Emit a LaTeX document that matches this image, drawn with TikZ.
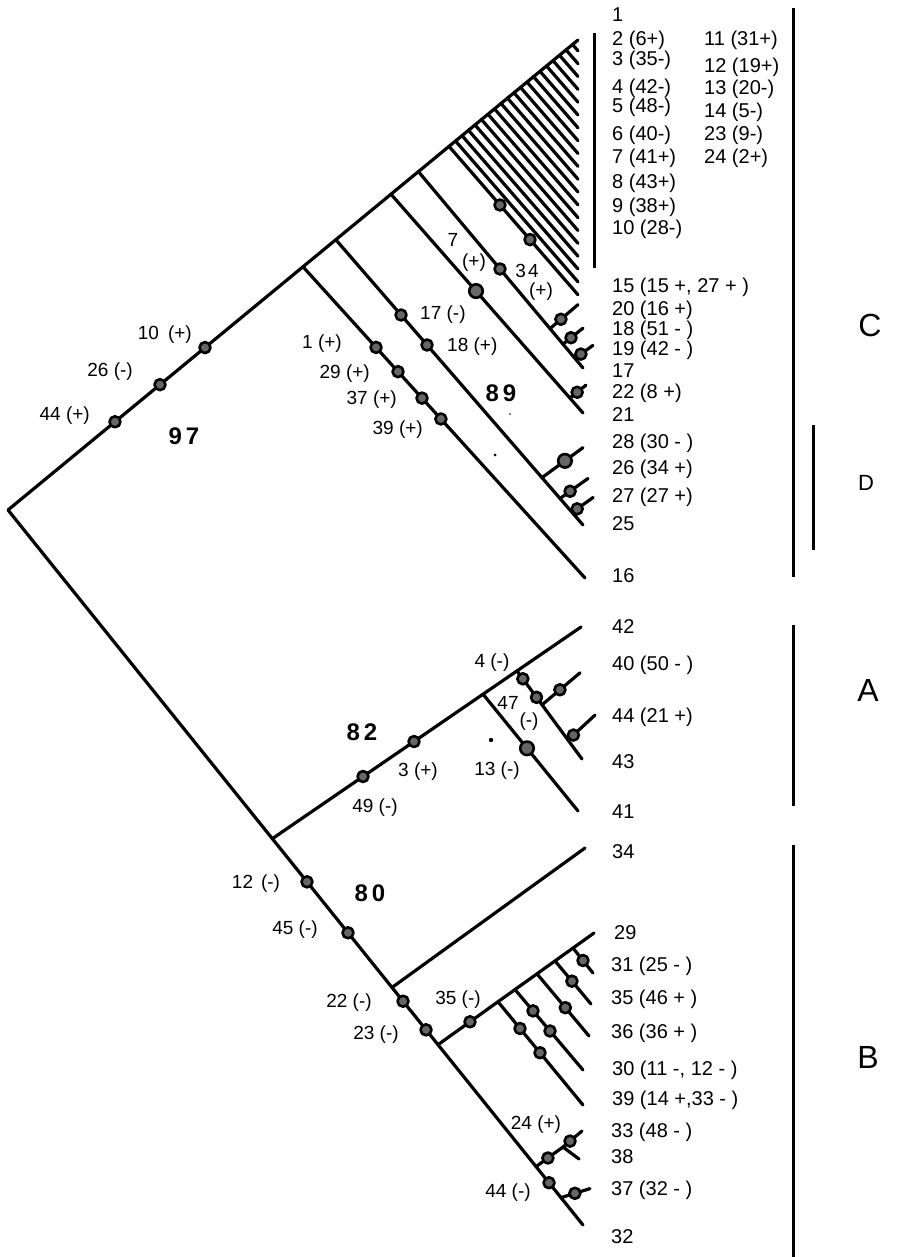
\documentclass[tikz,border=0pt]{standalone}
\usepackage{fontspec}
\setmainfont{Liberation Sans}
\usetikzlibrary{calc}

\begin{document}
\begin{tikzpicture}[x=1pt, y=-1pt, line cap=round, line join=round,
    br/.style={line width=3.2pt},
    bar/.style={line width=3pt, line cap=butt},
    apo/.style={circle, draw=black, line width=2.6pt, fill=black!60, inner sep=0pt, minimum size=11pt},
    apobig/.style={apo, minimum size=13.5pt},
    lab/.style={inner sep=0pt, font=\fontsize{19}{22}\selectfont},
    leaf/.style={lab, anchor=west, font=\fontsize{20}{22}\selectfont},
    num/.style={inner sep=0pt, font=\fontsize{24}{26}\selectfont\bfseries},
    grp/.style={inner sep=0pt, font=\fontsize{32}{34}\selectfont}]

    \useasboundingbox (0,0) rectangle (903,1257);

    % picture units are pixels of the figure, y runs downwards
    \def\up{0.8246}   % fall of the upper stem per unit x
    \def\fan{1.15}    % slope of the comb lines
    \def\tipx{578}    % right edge of the comb

    % key points
    \coordinate (root) at (8,510);
    \coordinate (top)  at (578,40);
    \coordinate (bot)  at (583,1225);

    % stems of the two main clades
    \draw[br] (top) -- (root)
        node[apo, pos=0.6544] (mk10) {}
        node[apo, pos=0.7333] (mk26) {}
        node[apo, pos=0.8123] (mk44) {}
        -- (bot)
        node[apo, pos=0.52]   (mk12) {}
        node[apo, pos=0.5913] (mk45) {}
        node[apo, pos=0.687]  (mk22) {}
        node[apo, pos=0.727]  (mk23) {}
        node[apo, pos=0.9409] (mk44b) {};

    % branch points on the upper stem
    \coordinate (c1) at ($(root)!0.5175!(top)$);
    \coordinate (c2) at ($(root)!0.5751!(top)$);
    \coordinate (c3) at ($(root)!0.6719!(top)$);
    \coordinate (c4) at ($(root)!0.7200!(top)$);
    \coordinate (c5) at ($(root)!0.7737!(top)$);

    % branch points on the lower stem
    \coordinate (a0)  at ($(root)!0.4597!(bot)$);
    \coordinate (b34) at ($(root)!0.6678!(bot)$);
    \coordinate (bj)  at ($(root)!0.7478!(bot)$);
    \coordinate (j24) at ($(root)!0.9183!(bot)$);
    \coordinate (j37) at ($(root)!0.9617!(bot)$);

    % ---- clade C ----
    % comb of the upper taxa
    \foreach \xs in {455.5,462,...,574}
        \draw[br] (\xs,{510-\up*(\xs-8)}) -- (\tipx,{510-\up*(\xs-8)+\fan*(\tipx-\xs)});

    % taxon 15
    \coordinate (e15) at (\tipx,294.8);
    \draw[br] (c5) -- (e15)
        node[apo, pos=0.395] (mk15a) {}
        node[apo, pos=0.628] (mk15b) {};

    % branch to 17
    \coordinate (e17) at (583,368);
    \draw[br] (c4) -- (e17)
        node[apo, pos=0.4957] (mk34) {}
        coordinate[pos=0.7995] (j20)
        coordinate[pos=0.8785] (j18)
        coordinate[pos=0.951]  (j19);
    \draw[br] (j20) -- ++(28,-24) node[apo, pos=0.39] (mk20) {};
    \draw[br] (j18) -- ++(20,-16) node[apo, pos=0.40] (mk18) {};
    \draw[br] (j19) -- ++(18,-13) node[apo, pos=0.33] (mk19) {};

    % branch to 21
    \coordinate (e21) at (583,413);
    \draw[br] (c3) -- (e21)
        node[apobig, pos=0.4427] (mk7) {}
        coordinate[pos=0.932] (j22);
    \draw[br] (j22) -- ++(16,-13) node[apo, pos=0.45] (mk22c) {};

    % branch to 25 (clade D)
    \coordinate (e25) at (583,525);
    \draw[br] (c2) -- (e25)
        node[apo, pos=0.2638] (mk17) {}
        node[apo, pos=0.369]  (mk18c) {}
        coordinate[pos=0.834] (j28)
        coordinate[pos=0.907] (j26)
        coordinate[pos=0.956] (j27);
    \draw[br] (j28) -- ++(41,-30) node[apobig, pos=0.56] (mk28) {};
    \draw[br] (j26) -- ++(28,-20) node[apo, pos=0.36] (mk26c) {};
    \draw[br] (j27) -- ++(21,-15) node[apo, pos=0.24] (mk27) {};

    % branch to 16
    \coordinate (e16) at (585,578);
    \draw[br] (c1) -- (e16)
        node[apo, pos=0.259] (mk1)  {}
        node[apo, pos=0.337] (mk29) {}
        node[apo, pos=0.422] (mk37) {}
        node[apo, pos=0.489] (mk39) {};

    % ---- clade A ----
    \coordinate (e42) at (581,627);
    \coordinate (e41) at (578,811);
    \coordinate (e43) at (582,759);
    \draw[br] (a0) -- (e42)
        node[apo, pos=0.2938] (mk49) {}
        node[apo, pos=0.459]  (mk3)  {}
        coordinate[pos=0.6826] (j41)
        coordinate[pos=0.7927] (j43);
    \draw[br] (j41) -- (e41) node[apobig, pos=0.463] (mk13) {};
    \draw[br] (j43) -- (e43)
        node[apo, pos=0.09] (mk4)  {}
        node[apo, pos=0.30] (mk47) {}
        coordinate[pos=0.385] (j40)
        coordinate[pos=0.785] (j44);
    \draw[br] (j40) -- ++(38,-32) node[apo, pos=0.47] (mk50) {};
    \draw[br] (j44) -- ++(27,-25) node[apo, pos=0.20] (mk21) {};

    % ---- clade B ----
    \coordinate (e34) at (585,848);
    \draw[br] (b34) -- (e34);
    \coordinate (e29) at (594,933);
    \draw[br] (bj) -- (e29)
        node[apo, pos=0.205] (mk35) {}
        coordinate[pos=0.3846] (k39)
        coordinate[pos=0.4936] (k30)
        coordinate[pos=0.6346] (k36)
        coordinate[pos=0.75]   (k35)
        coordinate[pos=0.8654] (k31);
    \coordinate (e39) at (583,1105);
    \coordinate (e30) at (583,1070);
    \coordinate (e36) at (589,1036);
    \coordinate (e35) at (591,1004);
    \coordinate (e31) at (593,973);
    \draw[br] (k39) -- (e39) node[apo, pos=0.259] (mk14) {} node[apo, pos=0.494] (mk33) {};
    \draw[br] (k30) -- (e30) node[apo, pos=0.265] (mk11) {} node[apo, pos=0.515] (mk12b) {};
    \draw[br] (k36) -- (e36) node[apo, pos=0.545] (mk36) {};
    \draw[br] (k35) -- (e35) node[apo, pos=0.47]  (mk46) {};
    \draw[br] (k31) -- (e31) node[apo, pos=0.5]   (mk25) {};

    % taxa 33, 38 and 37
    \coordinate (n38) at (563,1147);
    \coordinate (e33) at (582,1131);
    \coordinate (e38) at (579,1159);
    \draw[br] (j24) -- (n38) node[apo, pos=0.44] (mk24) {};
    \draw[br] (n38) -- (e33) node[apo, pos=0.37] (mk48) {};
    \draw[br] (n38) -- (e38);
    \draw[br] (j37) -- ++(29,-9) node[apo, pos=0.48] (mk32) {};

    % specks of the print
    \fill (491,740) circle (2.2pt);
    \fill (495,455) circle (1.5pt);
    \fill (510,414) circle (0.8pt);

    % bar beside the comb
    \draw[bar] (594,33) -- (594,268);

    % characters on the branches
    \node[lab, anchor=east] (t10) at (192,335) {10\hspace{9pt}(+)};
    \node[lab, anchor=east] (t26) at (133,372) {26 (-)};
    \node[lab, anchor=east] (t44) at (90,416)  {44 (+)};
    \node[lab, anchor=east] (t1)  at (342,344) {1 (+)};
    \node[lab, anchor=east] (t29) at (370,374) {29 (+)};
    \node[lab, anchor=east] (t37) at (397,400) {37 (+)};
    \node[lab, anchor=east] (t39) at (423,430) {39 (+)};
    \node[lab, anchor=west] (t17) at (420,315) {17 (-)};
    \node[lab, anchor=west] (t18) at (447,347) {18 (+)};
    \node[lab] (t7)   at (453,240) {7};
    \node[lab] (t7p)  at (474,263) {(+)};
    \node[lab] (t34)  at (527,271) {3\kern2pt4};
    \node[lab] (t34p) at (541,292) {(+)};
    \node[lab] (t49) at (375,808)  {49 (-)};
    \node[lab] (t3)  at (418,772)  {3 (+)};
    \node[lab] (t13) at (497,771)  {13 (-)};
    \node[lab] (t4)  at (492,663)  {4 (-)};
    \node[lab] (t47) at (508,703)  {47};
    \node[lab] (t47p) at (529,722) {(-)};
    \node[lab] (t12) at (256,884)  {12\hspace{8pt}(-)};
    \node[lab] (t45) at (295,930)  {45 (-)};
    \node[lab] (t22) at (349,1003) {22 (-)};
    \node[lab] (t23) at (376,1035) {23 (-)};
    \node[lab] (t35) at (458,1000) {35 (-)};
    \node[lab] (t24) at (536,1125) {24 (+)};
    \node[lab] (t44b) at (508,1193) {44 (-)};

    % support values
    \node[num] (s97) at (184,436) {9\kern4pt 7};
    \node[num] (s89) at (501,393) {8\kern4pt 9};
    \node[num] (s82) at (362,732) {8\kern4pt 2};
    \node[num] (s80) at (370,893) {8\kern4pt 0};

    % taxa
    \node[leaf] (l1)  at (612,15)  {1};
    \node[leaf] (l2)  at (612,40)  {2 (6+)};
    \node[leaf] (l3)  at (612,60)  {3 (35-)};
    \node[leaf] (l4)  at (612,88)  {4 (42-)};
    \node[leaf] (l5)  at (612,107) {5 (48-)};
    \node[leaf] (l6)  at (612,135) {6 (40-)};
    \node[leaf] (l7)  at (612,158) {7 (41+)};
    \node[leaf] (l8)  at (612,183) {8 (43+)};
    \node[leaf] (l9)  at (612,207) {9 (38+)};
    \node[leaf] (l10) at (612,229) {10 (28-)};
    \node[leaf] (l11) at (704,40)  {11 (31+)};
    \node[leaf] (l12) at (704,67)  {12 (19+)};
    \node[leaf] (l13) at (704,89)  {13 (20-)};
    \node[leaf] (l14) at (704,112) {14 (5-)};
    \node[leaf] (l23) at (704,135) {23 (9-)};
    \node[leaf] (l24) at (704,158) {24 (2+)};
    \node[leaf] (l15) at (612,287) {15 (15 +, 27 + )};
    \node[leaf] (l20) at (612,310) {20 (16 +)};
    \node[leaf] (l18) at (612,330) {18 (51 - )};
    \node[leaf] (l19) at (612,350) {19 (42 - )};
    \node[leaf] (l17) at (612,371) {17};
    \node[leaf] (l22) at (612,393) {22 (8 +)};
    \node[leaf] (l21) at (612,415) {21};
    \node[leaf] (l28) at (612,443) {28 (30 - )};
    \node[leaf] (l26) at (612,469) {26 (34 +)};
    \node[leaf] (l27) at (612,497) {27 (27 +)};
    \node[leaf] (l25) at (612,524) {25};
    \node[leaf] (l16) at (612,576) {16};
    \node[leaf] (l42) at (612,627) {42};
    \node[leaf] (l40) at (612,665) {40 (50 - )};
    \node[leaf] (l44) at (612,717) {44 (21 +)};
    \node[leaf] (l43) at (612,762) {43};
    \node[leaf] (l41) at (612,812) {41};
    \node[leaf] (l34) at (612,852) {34};
    \node[leaf] (l29) at (614,933) {29};
    \node[leaf] (l31) at (611,966) {31 (25 - )};
    \node[leaf] (l35) at (611,999) {35 (46 + )};
    \node[leaf] (l36) at (611,1033) {36 (36 + )};
    \node[leaf] (l30) at (612,1070) {30 (11 -, 12 - )};
    \node[leaf] (l39) at (612,1100) {39 (14 +,33 - )};
    \node[leaf] (l33) at (611,1132) {33 (48 - )};
    \node[leaf] (l38) at (611,1157) {38};
    \node[leaf] (l37) at (611,1190) {37 (32 - )};
    \node[leaf] (l32) at (611,1237) {32};

    % groups
    \draw[bar] (793,8) -- (793,577);
    \draw[bar] (813,425) -- (813,550);
    \draw[bar] (793,625) -- (793,806);
    \draw[bar] (793,845) -- (793,1257);
    \node[grp] (gC) at (870,325) {C};
    \node[grp, font=\fontsize{22}{24}\selectfont] (gD) at (866,483) {D};
    \node[grp] (gA) at (868,690) {A};
    \node[grp] (gB) at (868,1057) {B};

\end{tikzpicture}
\end{document}
